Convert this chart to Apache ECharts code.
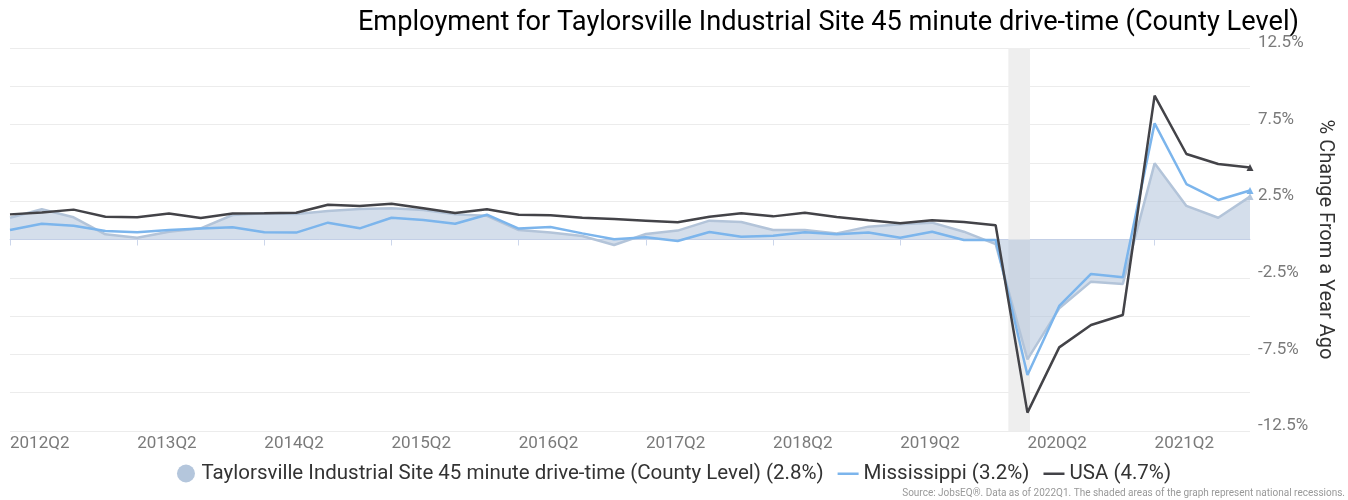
<!DOCTYPE html>
<html>
<head>
<meta charset="utf-8">
<script src="https://cdn.jsdelivr.net/npm/echarts@6/dist/echarts.min.js"></script>
<style>html,body{margin:0;padding:0;background:#fff}#c{width:1348px;height:500px}</style>
</head>
<body>
<div id="c"></div>
<script>
const quarters = ['2012Q2','2012Q3','2012Q4','2013Q1','2013Q2','2013Q3','2013Q4','2014Q1','2014Q2','2014Q3','2014Q4','2015Q1','2015Q2','2015Q3','2015Q4','2016Q1','2016Q2','2016Q3','2016Q4','2017Q1','2017Q2','2017Q3','2017Q4','2018Q1','2018Q2','2018Q3','2018Q4','2019Q1','2019Q2','2019Q3','2019Q4','2020Q1','2020Q2','2020Q3','2020Q4','2021Q1','2021Q2','2021Q3','2021Q4','2022Q1'];
const taylorsville = [1.42,1.97,1.45,0.34,0.12,0.51,0.73,1.60,1.71,1.66,1.86,1.99,2.04,1.93,1.64,1.55,0.62,0.45,0.23,-0.36,0.36,0.58,1.23,1.14,0.62,0.62,0.40,0.84,0.99,1.10,0.51,-0.30,-7.82,-4.49,-2.75,-2.90,4.97,2.19,1.42,2.8];
const mississippi = [0.62,1.03,0.90,0.55,0.47,0.62,0.71,0.80,0.47,0.45,1.10,0.73,1.42,1.27,1.03,1.62,0.71,0.82,0.40,0.01,0.14,-0.10,0.49,0.18,0.25,0.47,0.34,0.45,0.12,0.51,-0.03,-0.03,-8.84,-4.34,-2.25,-2.47,7.58,3.62,2.58,3.2];
const usa = [1.64,1.77,1.95,1.49,1.45,1.69,1.40,1.69,1.71,1.75,2.27,2.19,2.34,2.04,1.73,1.97,1.62,1.58,1.42,1.34,1.23,1.12,1.49,1.71,1.51,1.75,1.47,1.25,1.06,1.25,1.14,0.93,-11.30,-7.04,-5.58,-4.93,9.39,5.58,4.93,4.7];
// recession span in quarter-index units (from 2020Q1 index 31)
const recessions = [[31.4, 32.08]];
const seriesNames = ['Taylorsville Industrial Site 45 minute drive-time (County Level) (2.8%)','Mississippi (3.2%)','USA (4.7%)'];

function toPairs(arr){
  return arr.map((v,i)=> i === arr.length-1 ? {value:[i,v], symbol:'triangle', symbolSize:7} : [i,v]);
}

const lineIcon = 'path://M0,0M0,8H21V10.5H0ZM21,18';
const chart = echarts.init(document.getElementById('c'), null, {renderer:'canvas'});
const font = 'Roboto, "Noto Sans", sans-serif';
chart.setOption({
  animation:false,
  textStyle:{fontFamily:font},
  title:{
    text:'Employment for Taylorsville Industrial Site 45 minute drive-time (County Level)',
    right:44, top:5,
    textStyle:{fontSize:27.2, fontWeight:'normal', color:'#000', fontFamily:font}
  },
  legend:{
    bottom:11, left:'center',
    itemWidth:21, itemHeight:18, itemGap:14,
    textStyle:{fontSize:20.5, color:'#333', fontFamily:font},
    data:[{name:seriesNames[0], icon:'circle', itemStyle:{color:'#b4c6dc'}},
          {name:seriesNames[1], icon:lineIcon, itemStyle:{color:'#7cb5ec'}},
          {name:seriesNames[2], icon:lineIcon, itemStyle:{color:'#434348'}}]
  },
  graphic:[{
    type:'text', right:3, bottom:2,
    style:{text:'Source: JobsEQ®. Data as of 2022Q1. The shaded areas of the graph represent national recessions.', fontSize:10, fill:'#999', fontFamily:font}
  }],
  grid:{left:10, right:98, top:48, bottom:69, containLabel:false},
  xAxis:{
    type:'value', min:0, max:quarters.length-1, interval:4,
    axisLine:{show:true, lineStyle:{color:'#ccd6eb', width:1}},
    axisTick:{show:true, length:6, lineStyle:{color:'#ccd6eb'}},
    splitLine:{show:false},
    axisLabel:{
      show:true, align:'left', margin:4, fontSize:17, color:'#7a7a7a', fontFamily:font, showMaxLabel:false,
      formatter:(v)=> (v % 4 === 0 && quarters[v]) ? quarters[v] : ''
    }
  },
  yAxis:{
    type:'value', position:'right', min:-12.5, max:12.5, interval:2.5,
    axisLine:{show:false}, axisTick:{show:false},
    splitLine:{show:true, lineStyle:{color:'#ececec', width:1}},
    axisLabel:{
      margin:8, fontSize:17, color:'#7a7a7a', fontFamily:font, verticalAlign:'bottom', lineHeight:10,
      formatter:(v)=>{ const k=Math.round(v/2.5); return (Math.abs(k)%2===1) ? (v.toFixed(1)+'%') : ''; }
    },
    name:'% Change From a Year Ago', nameLocation:'middle', nameRotate:-90, nameGap:65, nameMoveOverlap:false,
    nameTextStyle:{fontSize:20, color:'#333', fontFamily:font}
  },
  series:[
    {
      name:'recession', type:'line', data:[], z:0, silent:true,
      markArea:{silent:true, itemStyle:{color:'#eeeeee'}, data: recessions.map(r=>[{xAxis:r[0]},{xAxis:r[1]}])}
    },
    {
      name:seriesNames[0], type:'line', z:2, data:toPairs(taylorsville),
      symbol:'none', showSymbol:true,
      lineStyle:{color:'#b3c4d9', width:2.5},
      itemStyle:{color:'#b4c6dc'},
      areaStyle:{color:'rgba(172,192,216,0.74)', origin:0}
    },
    {
      name:seriesNames[1], type:'line', z:3, data:toPairs(mississippi),
      symbol:'none', showSymbol:true,
      lineStyle:{color:'#7cb5ec', width:2.5},
      itemStyle:{color:'#7cb5ec'}
    },
    {
      name:seriesNames[2], type:'line', z:4, data:toPairs(usa),
      symbol:'none', showSymbol:true,
      lineStyle:{color:'#434348', width:2.5},
      itemStyle:{color:'#434348'}
    }
  ]
});
</script>
</body>
</html>
